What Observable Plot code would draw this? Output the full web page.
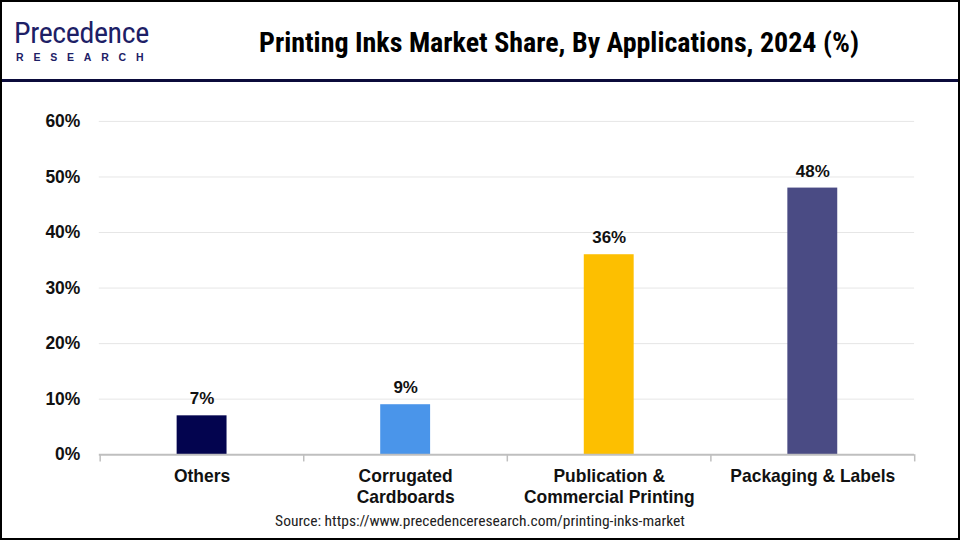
<!DOCTYPE html>
<html>
<head>
<meta charset="utf-8">
<script src="https://cdn.jsdelivr.net/npm/d3@7"></script>
<script src="https://cdn.jsdelivr.net/npm/@observablehq/plot@0.6"></script>
<style>
  html, body { margin: 0; padding: 0; background: #fff; }
  #frame { position: relative; width: 960px; height: 540px; box-sizing: border-box; border: 2px solid #000; overflow: hidden; background: #fff; }
  #header { position: absolute; left: 0; top: 0; width: 956px; height: 77px; border-bottom: 3px solid #0b0b3b; }
  .cond { font-family: "Roboto Condensed", Roboto, sans-serif; font-stretch: condensed; }
  #logo1 { position: absolute; left: 12px; top: 17px; font-size: 30px; color: #1d2066; letter-spacing: -0.4px; line-height: 27px; }
  #logo2 { position: absolute; left: 14px; top: 50px; font-family: "Liberation Sans", Arial, sans-serif; font-size: 10.5px; font-weight: bold; color: #1d2066; letter-spacing: 9.8px; line-height: 10px; }
  #title { position: absolute; left: 257px; top: 26px; font-weight: bold; font-size: 28px; color: #000; white-space: nowrap; line-height: 30px; }
  #chart { position: absolute; left: -2px; top: 80px; }
  #source { position: absolute; left: 0; width: 956px; top: 510px; text-align: center; font-size: 15.5px; color: #222; }
</style>
</head>
<body>
<div id="frame">
  <div id="header">
    <div id="logo1" class="cond">Precedence</div>
    <div id="logo2">RESEARCH</div>
    <div id="title" class="cond">Printing Inks Market Share, By Applications, 2024 (%)</div>
  </div>
  <div id="chart"></div>
  <div id="source" class="cond">Source: https://www.precedenceresearch.com/printing-inks-market</div>
</div>
<script>
const categories = ["Others", "Corrugated\nCardboards", "Publication &\nCommercial Printing", "Packaging & Labels"];
const shares = [7, 9, 36, 48];
const colors = ["#03044f", "#4a95ea", "#fdbf00", "#4a4b84"];
const yTicks = [0, 10, 20, 30, 40, 50, 60];

const data = categories.map((c, i) => ({category: c, share: shares[i], color: colors[i]}));

const W = 960, H = 430, mL = 99, mR = 44, mT = 39, mB = 57;
const step = (W - mL - mR) / categories.length;

const chart = Plot.plot({
  width: W,
  height: H,
  marginLeft: mL,
  marginRight: mR,
  marginTop: mT,
  marginBottom: mB,
  style: {fontFamily: '"Liberation Sans", Arial, sans-serif', background: "transparent"},
  x: {domain: categories, paddingInner: 0.755, paddingOuter: 0.3775, axis: null},
  y: {domain: [0, 60], ticks: yTicks, axis: null},
  color: {type: "identity"},
  marks: [
    Plot.gridY(yTicks.filter(d => d > 0), {stroke: "#e6e6e6", strokeOpacity: 1, strokeWidth: 1}),
    Plot.axisY(yTicks, {label: null, tickSize: 0, tickPadding: 19, tickFormat: d => d + "%", fontSize: 17.5, fontWeight: "bold", fill: "#111"}),
    Plot.barY(data, {x: "category", y: "share", fill: "color"}),
    Plot.ruleY([0], {stroke: "#bfbfbf", strokeWidth: 2}),
    Plot.ruleX(categories, {x: d => d, dx: -step / 2, y1: 0, y2: -1.3, stroke: "#bfbfbf", strokeWidth: 1.5}),
    Plot.ruleX(categories.slice(-1), {x: d => d, dx: step / 2, y1: 0, y2: -1.3, stroke: "#bfbfbf", strokeWidth: 1.5}),
    Plot.text(data, {x: "category", y: "share", text: d => d.share + "%", dy: -17, fontSize: 17, fontWeight: "bold", fill: "#111"}),
    Plot.text(data, {x: "category", frameAnchor: "bottom", text: "category", lineAnchor: "top", dy: 12, lineHeight: 1.2, fontSize: 17.5, fontWeight: "bold", fill: "#111"})
  ]
});
document.getElementById("chart").appendChild(chart);
</script>
</body>
</html>
